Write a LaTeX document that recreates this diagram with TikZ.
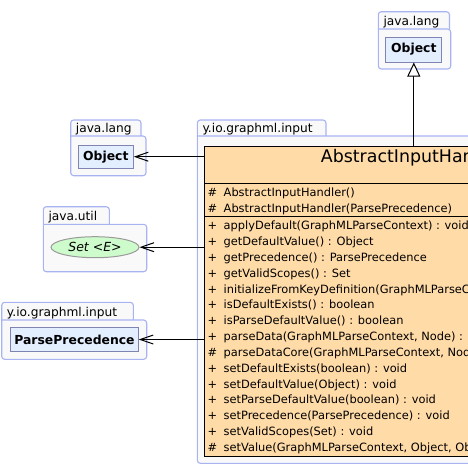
\documentclass[tikz,border=0pt]{standalone}
\usepackage{fontspec}
\setmainfont{DejaVu Sans}
\usetikzlibrary{arrows.meta,shapes.geometric}
\definecolor{pkgborder}{HTML}{A8B3F2}
\definecolor{pkgfill}{HTML}{F9F9F9}
\definecolor{nodefill}{HTML}{E3EEFF}
\definecolor{nodeborder}{HTML}{7F84B2}
\definecolor{classfill}{HTML}{FFDBA8}
\definecolor{setfill}{HTML}{CDFBCB}
\definecolor{setborder}{HTML}{9A9A9A}
\tikzset{
  pkgline/.style={draw=pkgborder, fill=pkgfill, line width=1.1pt, rounded corners=3pt, line join=round},
  tabtext/.style={anchor=base west, inner sep=0pt, font=\fontsize{12.2}{14}\selectfont},
  cnode/.style={draw=nodeborder, fill=nodefill, line width=1pt, inner sep=0pt, font=\bfseries\fontsize{12.4}{14}\selectfont},
  classbox/.style={draw=black, fill=classfill, line width=1pt, inner sep=0pt},
  titletext/.style={inner sep=0pt, font=\fontsize{17.4}{20}\selectfont},
  msign/.style={anchor=base west, inner sep=0pt, font=\fontsize{11.4}{14}\selectfont},
  mtext/.style={anchor=base west, inner sep=0pt, font=\fontsize{11.4}{14}\selectfont},
  dep/.style={draw=black, line width=1pt, -{Straight Barb[length=13pt, width=9pt]}},
  inh/.style={draw=black, line width=1pt, -{Triangle[length=14pt, width=13pt, fill=white]}},
}
\newcommand{\umlpkg}[8]{%
  \filldraw[pkgline] (#1,#4) -- (#1,#2) -- (#3,#2) -- (#3,#4);
  \filldraw[pkgline] (#1,#4) -- (#5,#4) -- (#5,#6) -- (#1,#6) -- (#1,#4);
  \node[tabtext] (#8) at (#1+5,#4-4) {#7};
}
\begin{document}
\begin{tikzpicture}[x=1pt,y=-1pt]
\useasboundingbox (0,0) rectangle (468,467);
\clip (0,0) rectangle (468,467);
\fill[white] (0,0) rectangle (468,467);

% packages
\umlpkg{378.3}{11.7}{449.5}{29}{450.7}{69}{java.lang}{pkgtop}
\umlpkg{70.7}{120}{141}{136}{146}{175.7}{java.lang}{pkgleft}
\umlpkg{43.3}{206.7}{109.3}{224.3}{146.7}{271.7}{java.util}{pkgutil}
\umlpkg{1.7}{302.3}{133.3}{320}{146.7}{359.3}{y.io.graphml.input}{pkgpp}
\umlpkg{197.3}{120}{326}{136}{660}{463.3}{y.io.graphml.input}{pkgmain}

% classifier nodes
\node[cnode, minimum width=55.7, minimum height=25] (objtop) at (413.8,49.5) {Object};
\node[cnode, minimum width=55, minimum height=23.3] (objleft) at (105.8,156.7) {Object};
\node[ellipse, draw=setborder, fill=setfill, line width=1pt, minimum width=88, minimum height=21, inner sep=0pt,
      font=\itshape\fontsize{12.5}{14}\selectfont] (set) at (95,247.2) {Set <E>};
\node[cnode, minimum width=127.6, minimum height=23.3] (pp) at (74.5,339.5) {ParsePrecedence};

% main class
\node[classbox, anchor=north west, minimum width=419.7, minimum height=310.3] (cls) at (204.3,145.7) {};
\node[titletext, anchor=base] (title) at (414.15,162.3) {AbstractInputHandler};
\draw[black, line width=1pt] (204.3,183.3) -- (624,183.3);
\draw[black, line width=1pt] (204.3,216.7) -- (624,216.7);

\foreach \msig/\mname [count=\i] in {
  {\#}/{AbstractInputHandler()},
  {\#}/{AbstractInputHandler(ParsePrecedence)}}
{
  \node[msign] (cs\i) at (207.5,192.7+\i*15.6-15.6+4) {\msig};
  \node[mtext] (cm\i) at (223.5,192.7+\i*15.6-15.6+4) {\mname};
}

\foreach \msig/\mname [count=\i] in {
  {+}/{applyDefault(GraphMLParseContext) : void},
  {+}/{getDefaultValue() : Object},
  {+}/{getPrecedence() : ParsePrecedence},
  {+}/{getValidScopes() : Set},
  {+}/{initializeFromKeyDefinition(GraphMLParseContext, Node) : void},
  {+}/{isDefaultExists() : boolean},
  {+}/{isParseDefaultValue() : boolean},
  {+}/{parseData(GraphMLParseContext, Node) : Object},
  {\#}/{parseDataCore(GraphMLParseContext, Node) : Object},
  {+}/{setDefaultExists(boolean) : void},
  {+}/{setDefaultValue(Object) : void},
  {+}/{setParseDefaultValue(boolean) : void},
  {+}/{setPrecedence(ParsePrecedence) : void},
  {+}/{setValidScopes(Set) : void},
  {\#}/{setValue(GraphMLParseContext, Object, Object) : void}}
{
  \node[msign] (ms\i) at (207.5,225.8+\i*15.83-15.83+4) {\msig};
  \node[mtext] (mm\i) at (223.5,225.8+\i*15.83-15.83+4) {\mname};
}

% connectors
\draw[inh] (cls.north -| objtop.south) -- (objtop.south);
\draw[dep] (objleft.east -| cls.west) -- (objleft.east);
\draw[dep] (set.east -| cls.west) -- (set.east);
\draw[dep] (pp.east -| cls.west) -- (pp.east);
\end{tikzpicture}
\end{document}
